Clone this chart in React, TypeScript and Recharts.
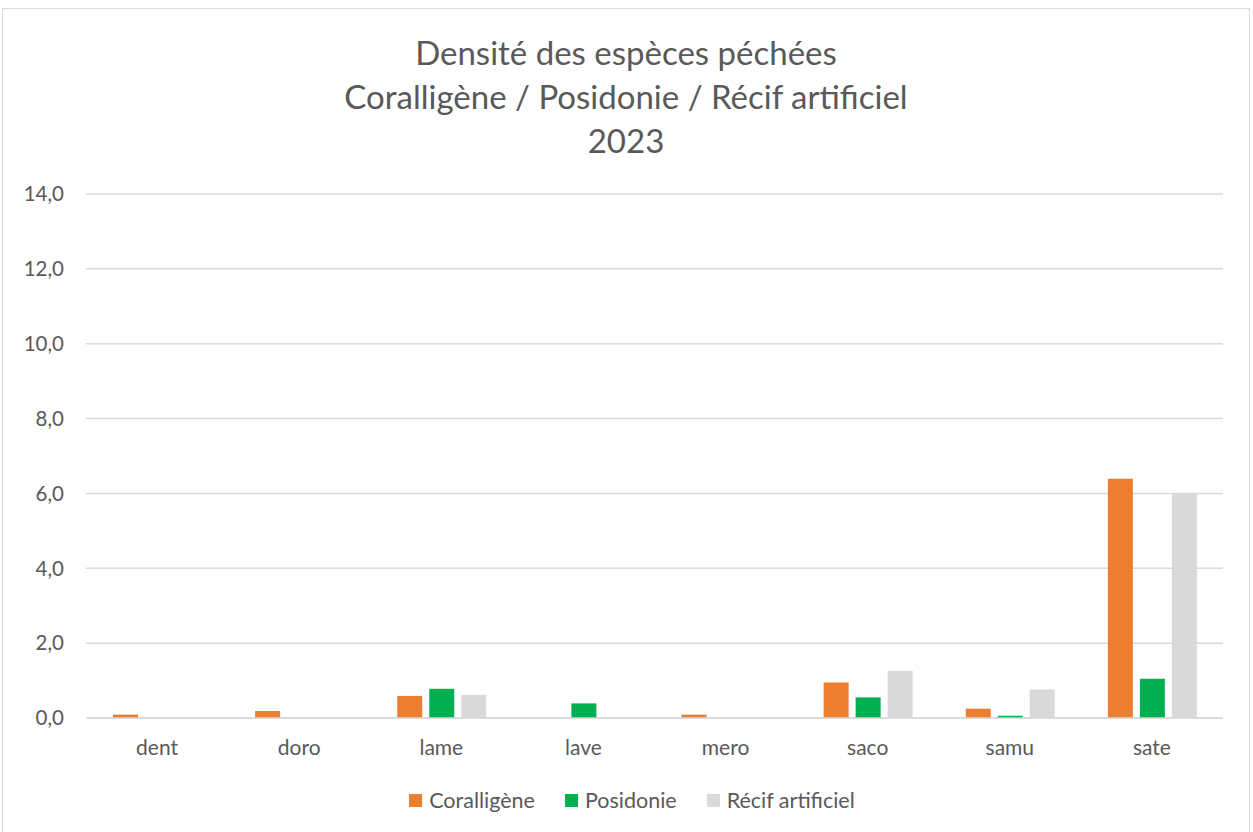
import { BarChart, Bar, XAxis, YAxis, CartesianGrid, Legend } from 'recharts';

const species = ['dent', 'doro', 'lame', 'lave', 'mero', 'saco', 'samu', 'sate'];
const coralligene = [0.09, 0.19, 0.59, 0, 0.09, 0.95, 0.25, 6.39];
const posidonie = [0, 0, 0.78, 0.39, 0, 0.55, 0.06, 1.05];
const recif = [0, 0, 0.62, 0, 0, 1.26, 0.76, 5.99];
const yTicks = [0, 2, 4, 6, 8, 10, 12, 14];

const seriesInfo = [
  { key: 'coralligene', name: 'Coralligène', color: '#ED7D31' },
  { key: 'posidonie', name: 'Posidonie', color: '#00B050' },
  { key: 'recif', name: 'Récif artificiel', color: '#D9D9D9' },
];

const data = species.map((s, i) => ({
  name: s,
  coralligene: coralligene[i],
  posidonie: posidonie[i],
  recif: recif[i],
}));

const FONT = 'Lato, "Open Sans", sans-serif';
const fmt = (v: number) => v.toFixed(1).replace('.', ',');

const LegendContent = () => (
  <div style={{ display: 'flex', justifyContent: 'center', height: 30, alignItems: 'center', paddingLeft: 38, fontFamily: FONT, fontSize: 21.5, color: '#595959' }}>
    {seriesInfo.map((s) => (
      <div key={s.key} style={{ display: 'flex', alignItems: 'center', margin: '0 15px' }}>
        <span style={{ width: 13, height: 13, background: s.color, display: 'inline-block', marginRight: 7 }} />
        <span>{s.name}</span>
      </div>
    ))}
  </div>
);

export default function App() {
  return (
    <div style={{ position: 'absolute', left: 2, top: 8, width: 1246, height: 828, border: '1px solid #d9d9d9', background: '#fff' }}>
      <div style={{ position: 'absolute', left: 0, right: 0, top: 21, textAlign: 'center', fontFamily: FONT, fontSize: 33, lineHeight: '44px', color: '#595959' }}>
        <div>Densité des espèces péchées</div>
        <div>Coralligène / Posidonie / Récif artificiel</div>
        <div>2023</div>
      </div>
      <BarChart
        width={1246}
        height={828}
        data={data}
        margin={{ top: 185, right: 26, bottom: 22, left: 0 }}
        barCategoryGap="19%"
        barGap={7}
      >
        <CartesianGrid vertical={false} stroke="#d9d9d9" strokeWidth={1.5} />
        <XAxis
          dataKey="name"
          height={67}
          tickLine={false}
          axisLine={{ stroke: '#d9d9d9', strokeWidth: 1.5 }}
          tick={{ fontFamily: FONT, fontSize: 21, fill: '#595959' }}
          tickMargin={16}
        />
        <YAxis
          width={83}
          domain={[0, 14]}
          ticks={yTicks}
          tickFormatter={fmt}
          tickLine={false}
          axisLine={false}
          tickSize={0}
          tickMargin={22}
          tick={{ fontFamily: FONT, fontSize: 20.5, fill: '#595959' }}
        />
        <Legend verticalAlign="bottom" content={<LegendContent />} />
        {seriesInfo.map((s) => (
          <Bar key={s.key} dataKey={s.key} name={s.name} fill={s.color} isAnimationActive={false} />
        ))}
      </BarChart>
    </div>
  );
}
